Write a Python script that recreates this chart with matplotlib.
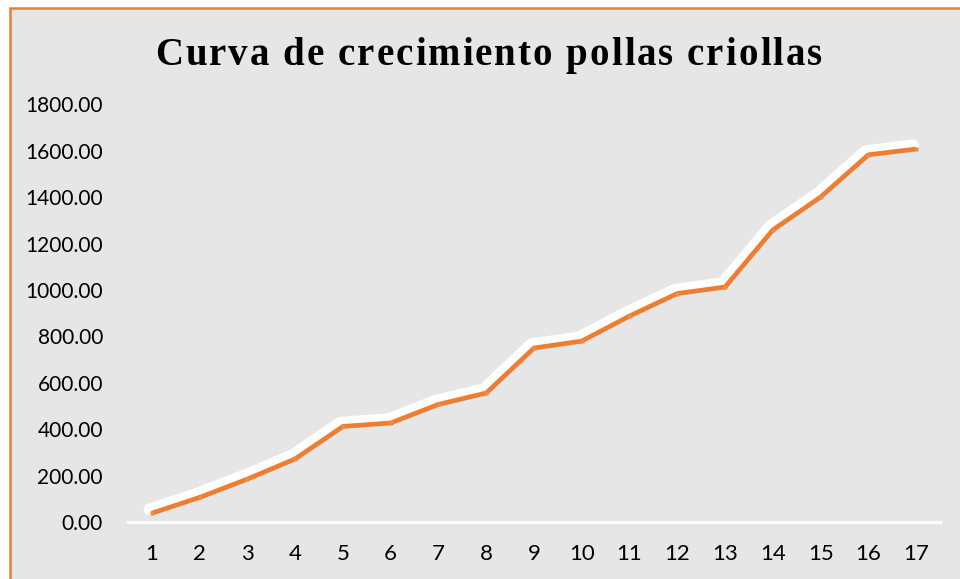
import matplotlib
matplotlib.use("Agg")
import matplotlib.pyplot as plt
import matplotlib.patheffects as pe
from matplotlib.patches import Rectangle
from matplotlib.ticker import FormatStrFormatter

days = list(range(1, 18))
weights = [38, 106, 185, 272, 412, 427, 507, 556, 750, 780, 888, 985, 1013, 1259, 1401, 1583, 1608]
y_ticks = [0, 200, 400, 600, 800, 1000, 1200, 1400, 1600, 1800]
title_text = "Curva de crecimiento pollas criollas"

BG = "#e7e6e6"
ORANGE = "#ed7d31"

W, H = 960, 579
fig = plt.figure(figsize=(W / 100, H / 100), dpi=100)
fig.patch.set_facecolor("white")

# chart area background + orange border (chart is cropped on right/bottom)
bg = Rectangle((10 / W, -0.1), 1.2, 1.1 - 8 / H, transform=fig.transFigure,
               facecolor=BG, edgecolor=ORANGE, linewidth=1.8, zorder=-10)
fig.patches.append(bg)

ax = fig.add_axes([128 / W, (H - 522) / H, (940 - 128) / W, (522 - 104.5) / H])
ax.set_facecolor(BG)
ax.patch.set_alpha(0)

ax.plot(days, weights, color=ORANGE, linewidth=3.4, solid_capstyle="butt",
        solid_joinstyle="round", zorder=3,
        path_effects=[pe.Stroke(offset=(-2.0, 2.9), linewidth=8.0,
                                foreground="white", capstyle="round",
                                joinstyle="round"),
                      pe.Normal()])
ax.plot(days, weights, linestyle="none", marker="s", markersize=3.2,
        markerfacecolor="#f08a45", markeredgecolor="none", zorder=4)

ax.set_xlim(0.5, 17.5)
ax.set_ylim(0, 1800)
ax.set_xticks(days)
ax.set_xticklabels([str(d) for d in days])
ax.set_yticks(y_ticks)
ax.yaxis.set_major_formatter(FormatStrFormatter("%.2f"))

for s in ["left", "right", "top"]:
    ax.spines[s].set_visible(False)
ax.spines["bottom"].set_color("white")
ax.spines["bottom"].set_linewidth(2.2)

ax.tick_params(axis="x", direction="inout", length=5, width=1.6, color=BG,
               pad=13, labelsize=16, labelcolor="black")
ax.tick_params(axis="y", length=0, pad=18, labelsize=15, labelcolor="black")
for lab in ax.get_xticklabels() + ax.get_yticklabels():
    lab.set_fontfamily("Lato")

# letter-spaced serif bold title
renderer = fig.canvas.get_renderer()
tprops = dict(fontfamily="Liberation Serif", fontweight="bold", fontsize=28, color="black")

def text_width(s):
    t = fig.text(0, 0, s, **tprops)
    w = t.get_window_extent(renderer).width
    t.remove()
    return w

base = text_width("xx")
adv = [text_width("x" + c + "x") - base for c in title_text]
target_w = 822 - 155
n = len(title_text)
spacing = (target_w - sum(adv[:-1]) - adv[-1]) / (n - 1)
x = 488.5 - target_w / 2
y_base = H - 65
for c, a in zip(title_text, adv):
    fig.text(x / W, y_base / H, c, ha="left", va="baseline", **tprops)
    x += a + spacing

fig.savefig("out.png", dpi=100, facecolor=fig.get_facecolor())
